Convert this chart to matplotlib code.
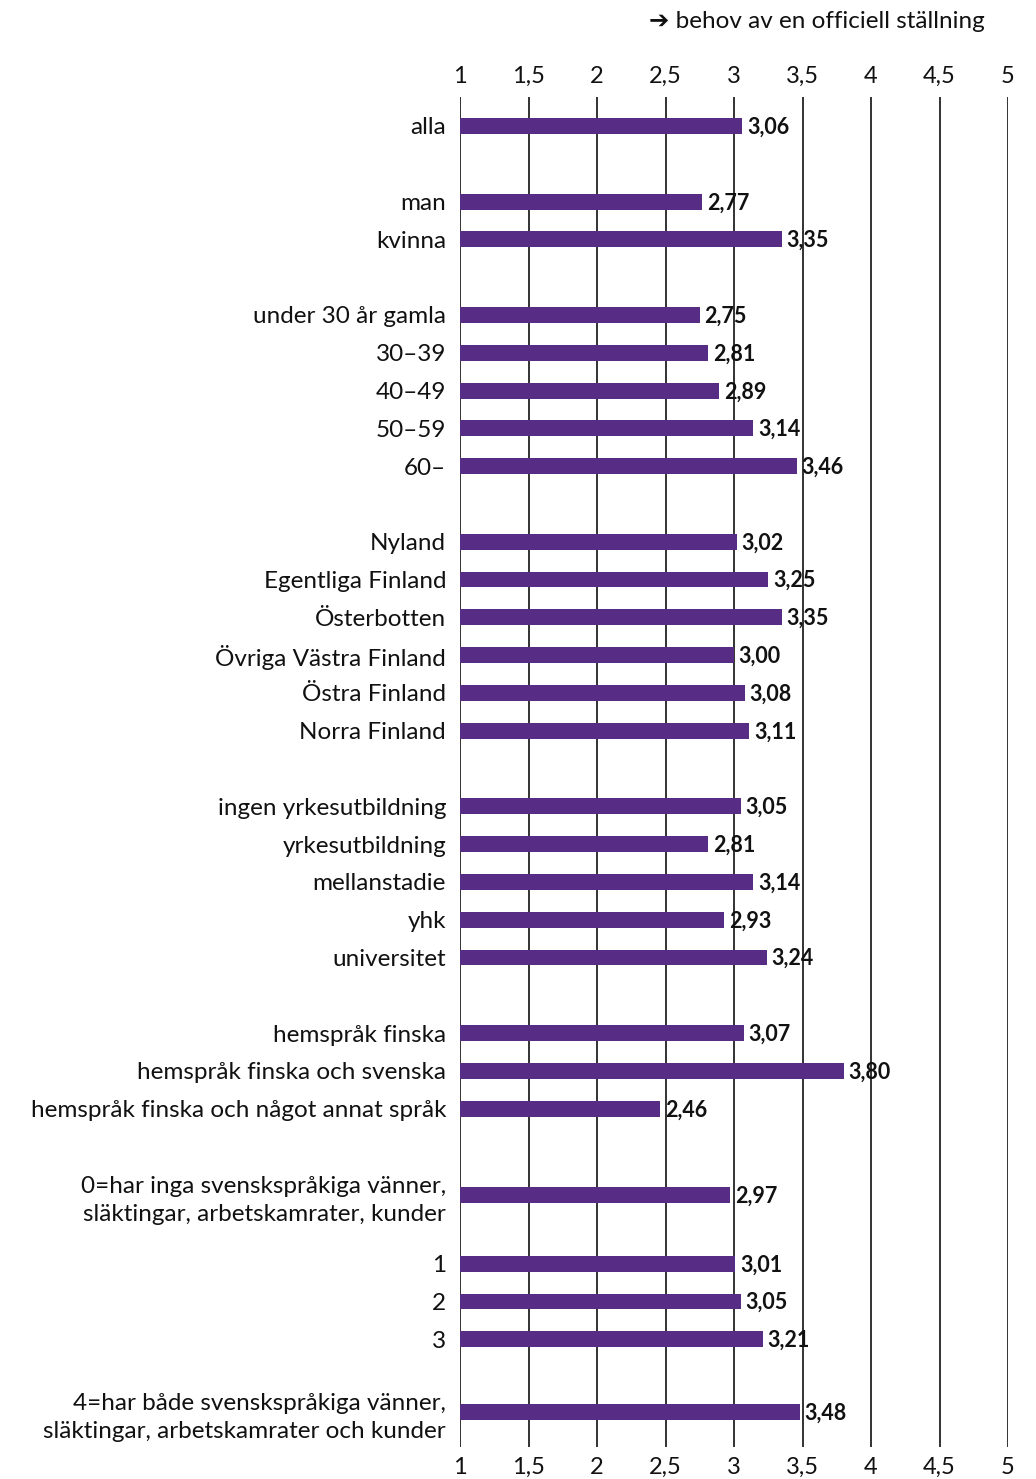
import matplotlib.pyplot as plt

plt.rcParams['font.family'] = ['Lato', 'DejaVu Sans']

# data
kategorier = [
    "alla",
    "man", "kvinna",
    "under 30 år gamla", "30–39", "40–49", "50–59", "60–",
    "Nyland", "Egentliga Finland", "Österbotten", "Övriga Västra Finland",
    "Östra Finland", "Norra Finland",
    "ingen yrkesutbildning", "yrkesutbildning", "mellanstadie", "yhk", "universitet",
    "hemspråk finska", "hemspråk finska och svenska", "hemspråk finska och något annat språk",
    "0=har inga svenskspråkiga vänner,\nsläktingar, arbetskamrater, kunder",
    "1", "2", "3",
    "4=har både svenskspråkiga vänner,\nsläktingar, arbetskamrater och kunder",
]
varden = [
    3.06,
    2.77, 3.35,
    2.75, 2.81, 2.89, 3.14, 3.46,
    3.02, 3.25, 3.35, 3.00, 3.08, 3.11,
    3.05, 2.81, 3.14, 2.93, 3.24,
    3.07, 3.80, 2.46,
    2.97, 3.01, 3.05, 3.21, 3.48,
]
ticks = [1, 1.5, 2, 2.5, 3, 3.5, 4, 4.5, 5]
tick_labels = ["1", "1,5", "2", "2,5", "3", "3,5", "4", "4,5", "5"]

# layout: radposition (grupper med mellanrum)
rader = [0, 2, 3, 5, 6, 7, 8, 9, 11, 12, 13, 14, 15, 16,
         18, 19, 20, 21, 22, 24, 25, 26, 28.28, 30.1, 31.1, 32.1, 34.02]

lila = '#572c85'

fig = plt.figure(figsize=(10.36, 14.79), dpi=100)
ax = fig.add_axes([460/1036, 1 - 1447/1479, 548/1036, 1350/1479])

for t in ticks:
    ax.axvline(t, color='#222222', lw=1.3, zorder=1)

ax.barh(rader, [v - 1 for v in varden], left=1, height=0.42, color=lila, zorder=2)

for y, v in zip(rader, varden):
    ax.text(v + 0.035, y + 0.03, f"{v:.2f}".replace('.', ','), va='center', ha='left',
            fontsize=15.5, fontweight='bold', color='#111111', zorder=3)

ax.set_xlim(1, 5)
ax.set_ylim(34.95, -0.767)
ax.set_yticks(rader)
ax.set_yticklabels(kategorier, fontsize=17.5, color='#111111', linespacing=1.4)
ax.tick_params(axis='y', length=0, pad=10)
ax.set_xticks(ticks)
ax.set_xticklabels(tick_labels, fontsize=17, color='#111111')
ax.tick_params(axis='x', length=0, pad=7, top=True, labeltop=True)
for s in ax.spines.values():
    s.set_visible(False)

fig.text(985/1036, 1 - 22/1479, "➔ behov av en officiell ställning", ha='right', va='center',
         fontsize=17.5, color='#111111')

fig.savefig('out.png', dpi=100)
